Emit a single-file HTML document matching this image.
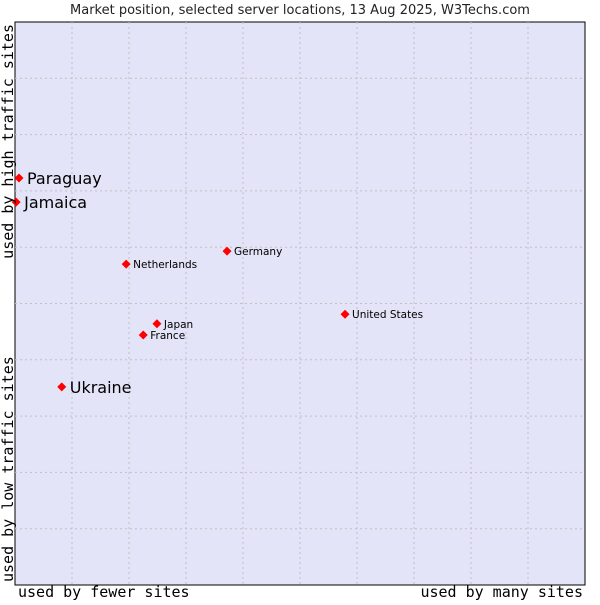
<!DOCTYPE html>
<html><head><meta charset="utf-8"><style>
body{margin:0;background:#fff;width:600px;height:600px;overflow:hidden}
text{font-family:"DejaVu Sans","Liberation Sans",sans-serif}
.mono{font-family:"DejaVu Sans Mono","Liberation Mono",monospace}
</style></head><body>
<svg id="chart" width="600" height="600" xmlns="http://www.w3.org/2000/svg">
<text x="300" y="14" text-anchor="middle" font-size="13" fill="#222">Market position, selected server locations, 13 Aug 2025, W3Techs.com</text>
<rect x="15" y="22" width="570" height="563" fill="#e4e4f8" stroke="#000" stroke-width="1"/>
<g id="grid"></g>
<g id="points"></g>
<text class="mono" x="18" y="597" font-size="15" fill="#000">used by fewer sites</text>
<text class="mono" x="583" y="597" font-size="15" fill="#000" text-anchor="end">used by many sites</text>
<text class="mono" transform="translate(13,24) rotate(-90)" font-size="15" fill="#000" text-anchor="end">used by high traffic sites</text>
<text class="mono" transform="translate(13,582) rotate(-90)" font-size="15" fill="#000">used by low traffic sites</text>
</svg>
<script>
const names=["Paraguay","Jamaica","Netherlands","Germany","United States","Japan","France","Ukraine"];
const xs=[0.07,0.02,1.95,3.72,5.79,2.49,2.25,0.82];
const ys=[7.23,6.8,5.7,5.93,4.81,4.64,4.44,3.52];
const big=[true,true,false,false,false,false,false,true];
const NS="http://www.w3.org/2000/svg";
const X0=15,X1=585,Y0=585,Y1=22;
const sx=v=>X0+v/10*(X1-X0);
const sy=v=>Y0-v/10*(Y0-Y1);
const grid=document.getElementById('grid');
for(let i=1;i<10;i++){
  const l=document.createElementNS(NS,'line');
  
  
  l.setAttribute('x1',sx(i));l.setAttribute('x2',sx(i));l.setAttribute('y1',Y1);l.setAttribute('y2',Y0);
  l.setAttribute('stroke','#c0c0c0');l.setAttribute('stroke-dasharray','2,3');grid.appendChild(l);
  const h=document.createElementNS(NS,'line');
  
  
  h.setAttribute('y1',sy(i));h.setAttribute('y2',sy(i));h.setAttribute('x1',X0);h.setAttribute('x2',X1);
  h.setAttribute('stroke','#c0c0c0');h.setAttribute('stroke-dasharray','2,3');grid.appendChild(h);
}
const pts=document.getElementById('points');
names.forEach((n,i)=>{
  const x=sx(xs[i]),y=sy(ys[i]);
  const d=document.createElementNS(NS,'polygon');
  
  
  d.setAttribute('points',`${x},${y-4.5} ${x+4.5},${y} ${x},${y+4.5} ${x-4.5},${y}`);
  d.setAttribute('fill','#f00');pts.appendChild(d);
  const t=document.createElementNS(NS,'text');
  
  
  t.setAttribute('x',x+(big[i]?8:7));t.setAttribute('y',y+(big[i]?6:4));
  t.setAttribute('font-size',big[i]?16:10.5);t.setAttribute('fill','#000');
  t.textContent=n;pts.appendChild(t);
});
</script>
</body></html>
